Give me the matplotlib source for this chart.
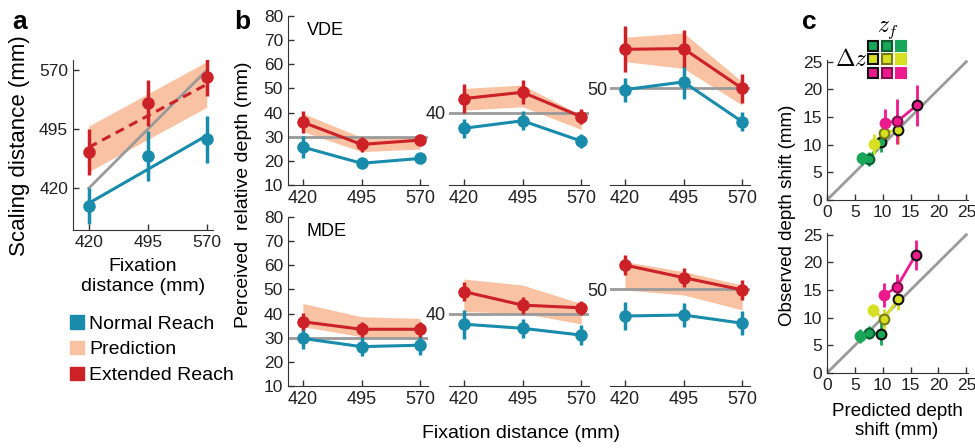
import matplotlib
matplotlib.use("Agg")
import matplotlib.pyplot as plt
from matplotlib.patches import Patch
import numpy as np

plt.rcParams['font.family'] = ['Liberation Sans', 'DejaVu Sans']
plt.rcParams['mathtext.fontset'] = 'cm'
plt.rcParams['axes.edgecolor'] = '#333333'
plt.rcParams['xtick.color'] = '#333333'
plt.rcParams['ytick.color'] = '#333333'
plt.rcParams['xtick.labelcolor'] = '#222222'
plt.rcParams['ytick.labelcolor'] = '#222222'

# ---- data ----
fix = [420, 495, 570]
fit_x = [420, 570]

# panel a: scaling distance
a_normal = [397, 461, 482]
a_normal_err = [23, 32, 30]
a_ext = [466, 528, 561]
a_ext_err = [29, 29, 24]
a_normal_fit = [401, 487]
a_ext_fit = [472, 552]
a_pred_lo = [441, 523]
a_pred_hi = [499, 581]
a_identity = [420, 570]

# panel b: perceived relative depth, one row per column (3 depths)
b_ref = [30, 40, 50]
vde_normal = [[25.7, 19.0, 21.0], [33.5, 36.6, 28.2], [49.5, 52.7, 36.2]]
vde_normal_err = [[4.5, 2.0, 2.0], [4.0, 4.0, 3.0], [5.0, 7.0, 4.0]]
vde_ext = [[36.0, 26.8, 28.6], [45.8, 48.4, 38.3], [66.2, 66.5, 50.0]]
vde_ext_err = [[4.5, 3.0, 2.0], [6.0, 5.0, 3.0], [9.5, 7.5, 6.0]]
vde_pred_lo = [[32.1, 23.8, 24.9], [41.0, 42.4, 33.0], [61.1, 58.3, 43.1]]
vde_pred_hi = [[39.7, 29.7, 30.0], [50.0, 51.4, 39.0], [71.2, 73.0, 52.8]]

mde_normal = [[29.7, 26.3, 26.9], [35.6, 33.9, 31.1], [39.0, 39.4, 36.0]]
mde_normal_err = [[4.5, 4.0, 4.0], [6.0, 4.0, 4.0], [6.0, 5.0, 5.0]]
mde_ext = [[36.6, 33.5, 33.5], [49.1, 43.5, 42.4], [60.1, 54.9, 49.8]]
mde_ext_err = [[3.5, 3.0, 3.0], [4.0, 3.5, 3.0], [4.0, 4.0, 4.0]]
mde_pred_lo = [[34.6, 30.4, 30.4], [40.8, 40.1, 35.7], [49.8, 47.7, 41.5]]
mde_pred_hi = [[44.2, 38.7, 38.0], [54.3, 51.8, 44.2], [61.5, 57.4, 51.8]]

# panel c: observed vs predicted depth shift
# rows: green, yellow, magenta (delta z); columns: black edge, mid edge, no edge (z_f)
c_top_pred = [[9.7, 7.5, 6.3], [12.8, 10.2, 8.4], [16.1, 12.6, 10.4]]
c_top_obs = [[10.5, 7.4, 7.5], [12.7, 12.1, 10.2], [17.1, 14.2, 14.0]]
c_top_err = [[1.8, 1.2, 1.2], [2.5, 1.5, 1.8], [3.7, 4.0, 2.5]]
c_bot_pred = [[9.6, 7.5, 6.0], [12.8, 10.2, 8.2], [15.9, 12.5, 10.3]]
c_bot_obs = [[7.0, 7.3, 6.7], [13.4, 9.8, 11.3], [21.3, 15.5, 14.1]]
c_bot_err = [[2.0, 1.2, 1.3], [2.0, 1.8, 1.2], [2.7, 2.4, 2.2]]

BLUE = '#1a8cab'
RED = '#cc2127'
PEACH = '#f9c3a3'
GRAY = '#9a9a9a'
c_colors = ['#18a658', '#d6df22', '#ec1a8c']
c_edges = ['#111111', None, 'none']

W, H = 975, 448
fig = plt.figure(figsize=(W / 100, H / 100), dpi=100)


def px_axes(l, t, r, b):
    return fig.add_axes([l / W, 1 - b / H, (r - l) / W, (b - t) / H])


def style(ax, xfs=13, yfs=12.5):
    for s in ['top', 'right']:
        ax.spines[s].set_visible(False)
    ax.tick_params(direction='in', length=4, width=1)
    ax.tick_params(axis='x', labelsize=xfs)
    ax.tick_params(axis='y', labelsize=yfs)


def draw_series(ax, y, err, color, ms=8):
    ax.plot(fix, y, color=color, lw=2.2, zorder=3)
    ax.errorbar(fix, y, yerr=err, fmt='o', color=color, ms=ms, elinewidth=2.5,
                capsize=0, zorder=4)


def edge_of(col, k):
    ec = c_edges[k]
    if ec is None:
        return tuple(0.55 * np.array(matplotlib.colors.to_rgb(col)))
    if ec == 'none':
        return col
    return ec


# ---- panel a ----
ax = px_axes(73, 60, 213, 230)
style(ax, xfs=12.5, yfs=12.5)
ax.fill_between(fit_x, a_pred_lo, a_pred_hi, color=PEACH, lw=0, zorder=1)
ax.plot(fit_x, a_identity, color=GRAY, lw=2, zorder=2)
ax.plot(fit_x, a_normal_fit, color=BLUE, lw=2.2, zorder=3)
ax.plot(fit_x, a_ext_fit, color=RED, lw=2.2, ls=(0, (3, 2)), zorder=3)
ax.errorbar(fix, a_normal, yerr=a_normal_err, fmt='o', color=BLUE, ms=8,
            elinewidth=2.5, capsize=0, zorder=4)
ax.errorbar(fix, a_ext, yerr=a_ext_err, fmt='o', color=RED, ms=8,
            elinewidth=2.5, capsize=0, zorder=4)
ax.set_xlim(400, 578)
ax.set_ylim(367, 583)
ax.set_xticks(fix)
ax.set_yticks(fix)
ax.set_xlabel('Fixation\ndistance (mm)', fontsize=14, labelpad=6)
fig.text(20 / W, 1 - 146 / H, 'Scaling distance (mm)', rotation=90,
         ha='center', va='center', fontsize=16)

handles = [Patch(color=BLUE), Patch(color=PEACH), Patch(color=RED)]
fig.legend(handles, ['Normal Reach', 'Prediction', 'Extended Reach'],
           loc='upper left', bbox_to_anchor=(70 / W, 1 - 315 / H), frameon=False,
           fontsize=14, handlelength=0.7, handleheight=0.7, handletextpad=0.3,
           labelspacing=0.42, borderaxespad=0, borderpad=0)

# ---- panel b ----
cols = [(288, 428), (449, 589), (610, 750)]
rows = [(16, 185, 'VDE', vde_normal, vde_normal_err, vde_ext, vde_ext_err,
         vde_pred_lo, vde_pred_hi),
        (217, 386, 'MDE', mde_normal, mde_normal_err, mde_ext, mde_ext_err,
         mde_pred_lo, mde_pred_hi)]
for (t, b, name, nrm, nrm_e, ext, ext_e, plo, phi) in rows:
    for j, (l, r) in enumerate(cols):
        ax = px_axes(l, t, r, b)
        style(ax, xfs=13, yfs=12.5 if j == 0 else 13)
        ax.fill_between(fix, plo[j], phi[j], color=PEACH, lw=0, zorder=1)
        ax.axhline(b_ref[j], color=GRAY, lw=2, zorder=2)
        draw_series(ax, nrm[j], nrm_e[j], BLUE)
        draw_series(ax, ext[j], ext_e[j], RED)
        ax.set_xlim(401, 580)
        ax.set_ylim(10, 80)
        ax.set_xticks(fix)
        if j == 0:
            ax.set_yticks(np.arange(10, 81, 10))
            ax.text(0.135, 0.915, name, transform=ax.transAxes, fontsize=13,
                    va='center', ha='left')
        else:
            ax.spines['left'].set_visible(False)
            ax.set_yticks([b_ref[j]])
            ax.tick_params(axis='y', length=0, pad=2)

fig.text(244 / W, 1 - 195 / H, 'Perceived  relative depth (mm)', rotation=90,
         ha='center', va='center', fontsize=14)
fig.text(521 / W, 1 - 433 / H, 'Fixation distance (mm)', ha='center',
         va='center', fontsize=14)

# ---- panel c ----
for (t, b, px, ob, er) in [(60, 200, c_top_pred, c_top_obs, c_top_err),
                           (233, 373, c_bot_pred, c_bot_obs, c_bot_err)]:
    ax = px_axes(827, t, 968, b)
    style(ax, xfs=12.5, yfs=12.5)
    ax.plot([0, 25], [0, 25], color=GRAY, lw=2, zorder=1)
    for i, col in enumerate(c_colors):
        ax.plot(px[i], ob[i], color=col, lw=2, zorder=2)
        for k in range(3):
            ax.errorbar(px[i][k], ob[i][k], yerr=er[i][k], fmt='none',
                        ecolor=col, elinewidth=2, capsize=0, zorder=3)
            ax.plot(px[i][k], ob[i][k], 'o', ms=7, mfc=col,
                    mec=edge_of(col, k), mew=1.5, zorder=4)
    ax.set_xlim(0, 25.3)
    ax.set_ylim(0, 25.3)
    ax.set_xticks(range(0, 26, 5))
    ax.set_yticks(range(0, 26, 5))

# inset key for panel c
kax = px_axes(866, 39, 908, 80)
kax.set_xlim(0.5, 3.5)
kax.set_ylim(3.5, 0.5)
kax.axis('off')
for i, col in enumerate(c_colors):
    for k in range(3):
        kax.plot(k + 1, i + 1, 's', ms=7, mfc=col, mec=edge_of(col, k),
                 mew=1.5, clip_on=False)
fig.text(888 / W, 1 - 30 / H, r'$z_f$', ha='center', va='center', fontsize=17)
fig.text(851 / W, 1 - 60 / H, r'$\Delta z$', ha='center', va='center', fontsize=17)

fig.text(787 / W, 1 - 215 / H, 'Observed depth shift (mm)', rotation=90,
         ha='center', va='center', fontsize=13.5)
fig.text(897 / W, 1 - 421 / H, 'Predicted depth\nshift (mm)', ha='center',
         va='center', fontsize=13.5)

# panel letters
for x, lab in [(12, 'a'), (234, 'b'), (802, 'c')]:
    fig.text(x / W, 1 - 22 / H, lab, fontsize=19, fontweight='bold',
             ha='left', va='center')

fig.savefig('out.png', dpi=100)
